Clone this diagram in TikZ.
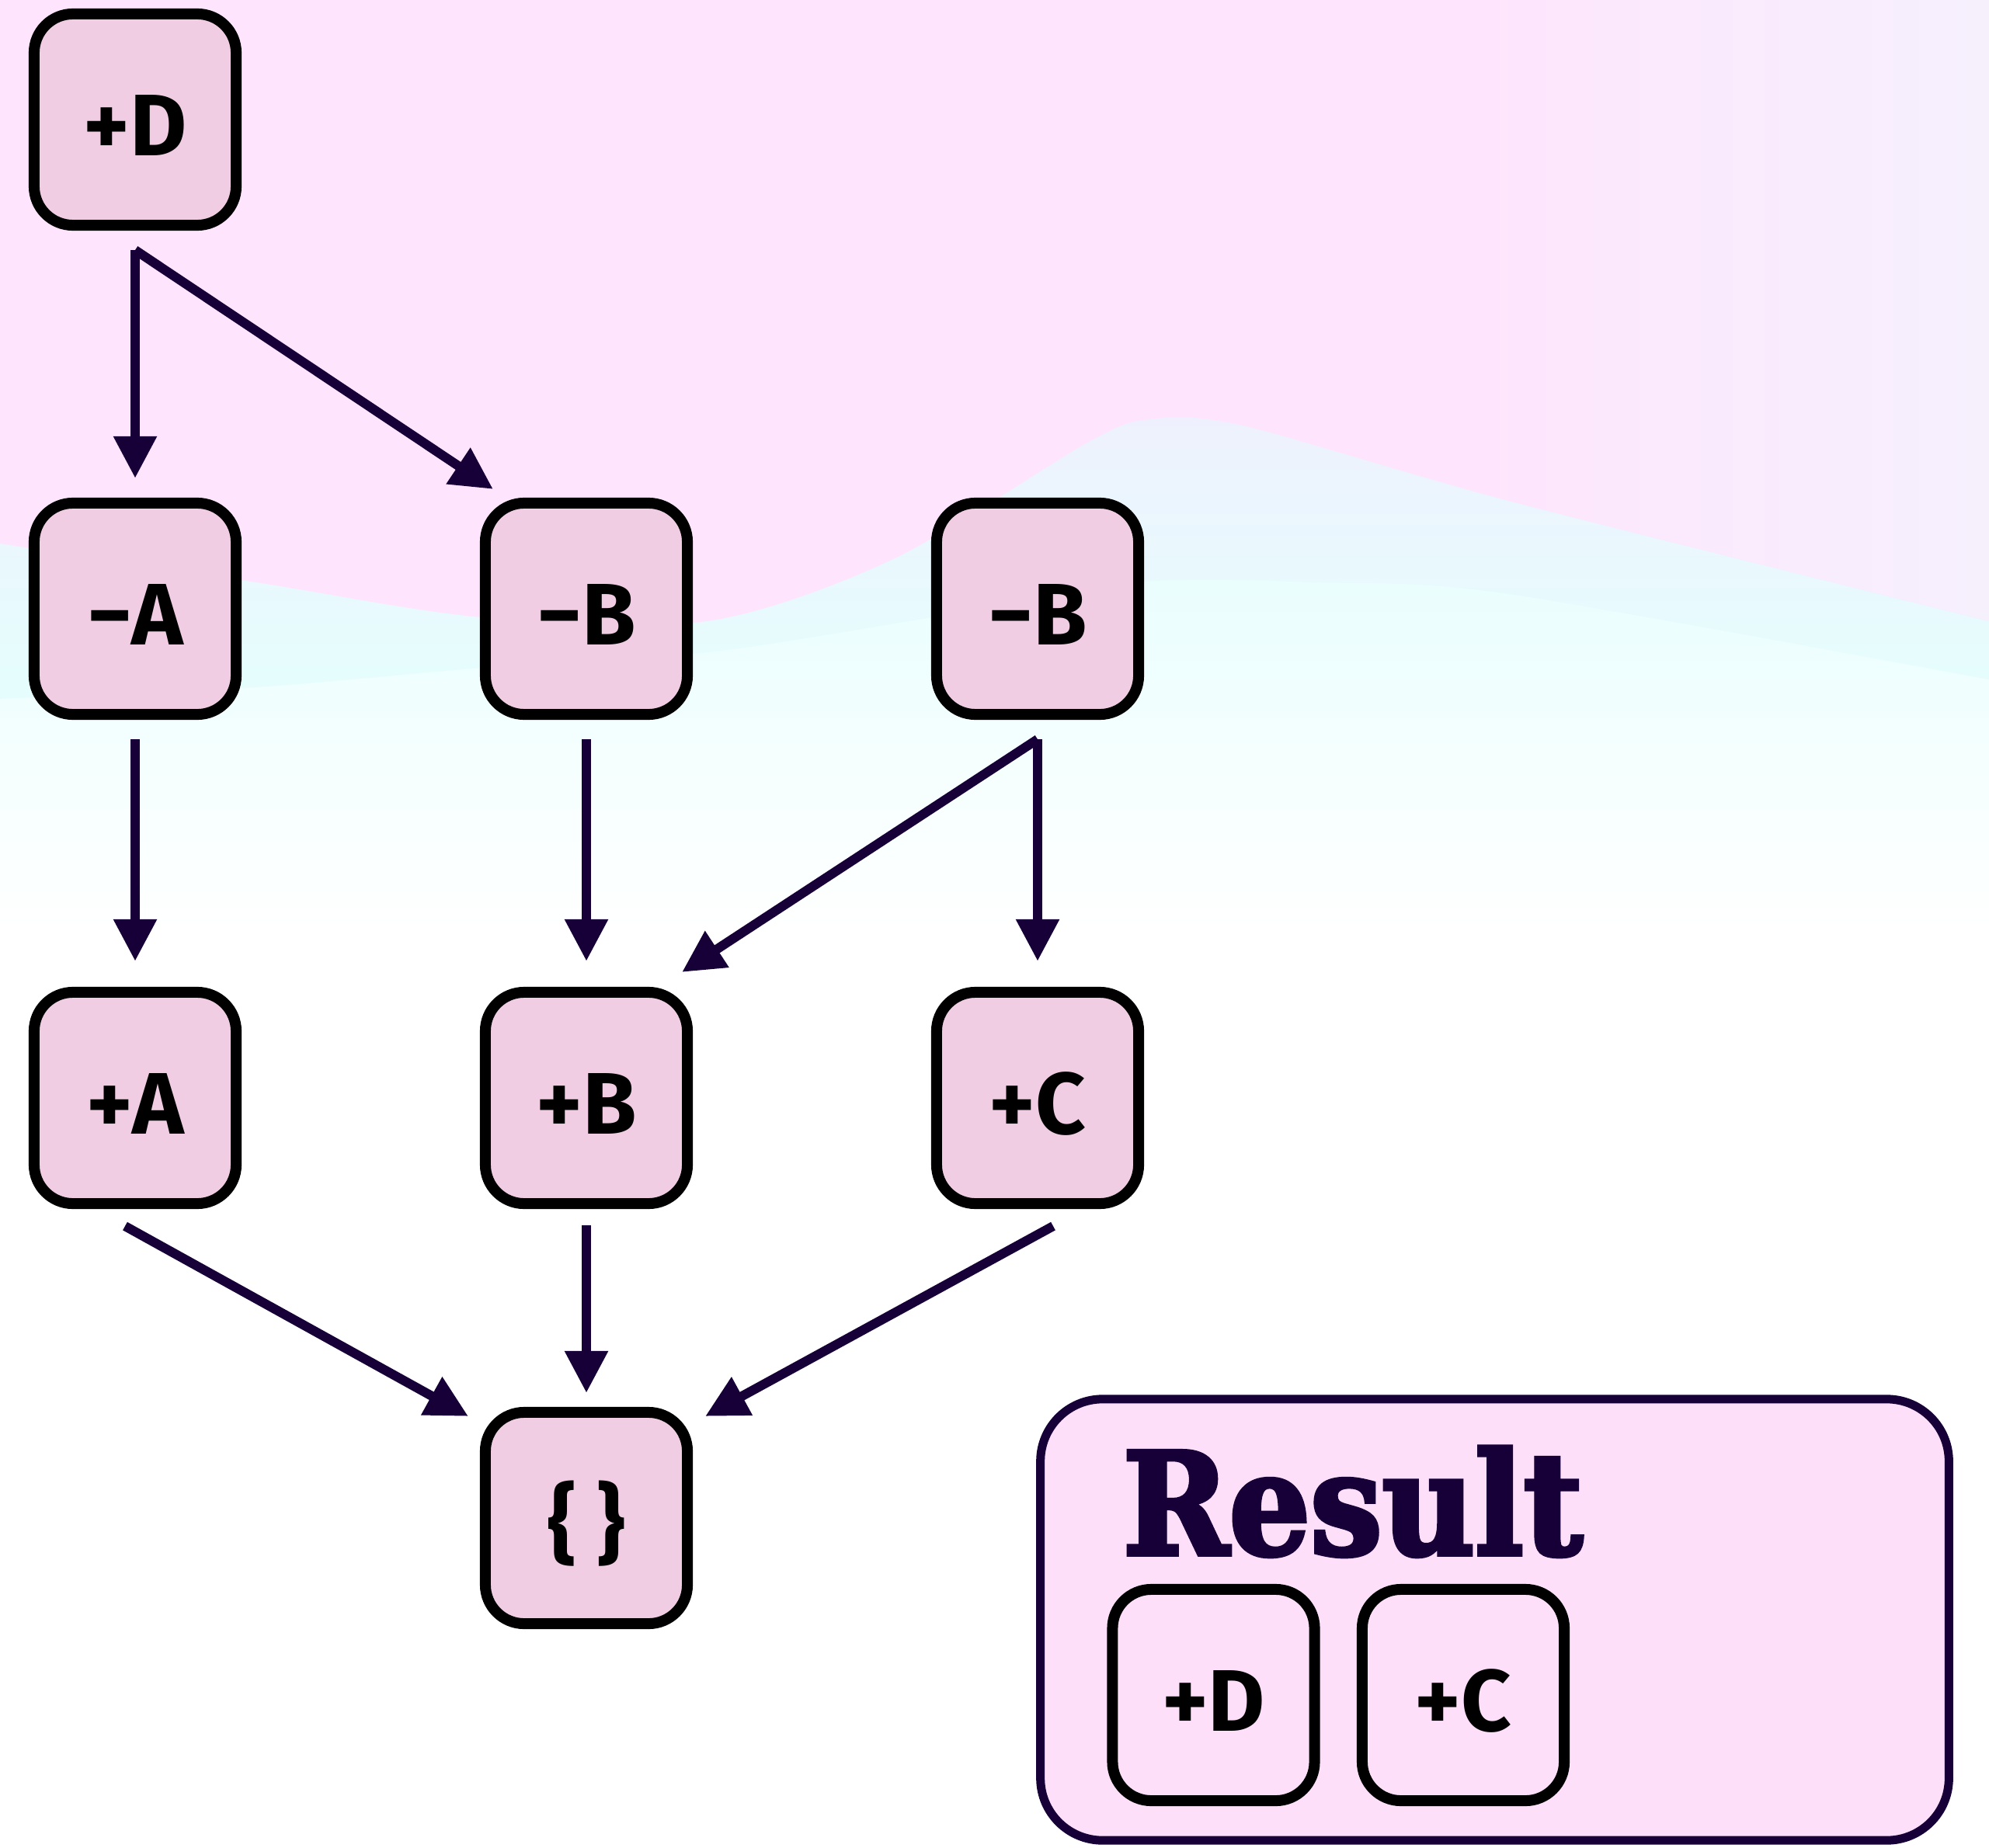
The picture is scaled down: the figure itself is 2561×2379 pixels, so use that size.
\documentclass[tikz,border=0pt]{standalone}
\usepackage{fontspec}
\usetikzlibrary{arrows.meta}
\newfontfamily\tokfont{Fira Sans}
\newfontfamily\titlefont{DejaVu Serif Condensed}[FakeBold=3]
\definecolor{bgpink}{HTML}{FEE5FD}
\definecolor{bgpinkr}{HTML}{F6F0FD}
\definecolor{bglav}{HTML}{F0EEFD}
\definecolor{bgcyan}{HTML}{E5FEFD}
\definecolor{tokfill}{HTML}{F0CDE3}
\definecolor{resfill}{HTML}{FDDFF9}
\definecolor{ink}{HTML}{170038}

\begin{document}
\begin{tikzpicture}[x=0.01cm, y=-0.01cm,
		tok/.style={draw=black, line width=0.14cm, fill=tokfill, rounded corners=0.5cm, minimum width=2.6cm, minimum height=2.72cm, inner sep=0pt, outer sep=0pt, text height=0.92cm, text depth=0pt, font=\tokfont\bfseries\fontsize{32}{32}\selectfont},
		edge/.style={draw=ink, line width=0.12cm, -{Triangle[width=0.53cm,length=0.54cm]}}
		]
		\useasboundingbox (0,0) rectangle (2561,2379);
		% background
		\fill[white] (0,0) rectangle (2561,2379);
		\shade[top color=bgcyan, bottom color=white] (0,650) rectangle (2561,1200);
		\shade[top color=bglav, bottom color=bgcyan] (0,450) -- plot[smooth] coordinates {(0,900) (330,885) (620,860) (912,840) (1200,795) (1461,750) (1700,750) (1943,765) (2561,875)} -- (2561,450) -- cycle;
		\fill[bgpink] (0,0) -- plot[smooth] coordinates {(0,700) (330,750) (620,795) (910,800) (1150,720) (1400,570) (1480,540) (1600,548) (1943,645) (2561,800)} -- (2561,0) -- cycle;
		\begin{scope}
			\clip (0,0) -- plot[smooth] coordinates {(0,700) (330,750) (620,795) (910,800) (1150,720) (1400,570) (1480,540) (1600,548) (1943,645) (2561,800)} -- (2561,0) -- cycle;
			\shade[left color=bgpink, right color=bgpinkr] (1900,0) rectangle (2561,900);
		\end{scope}
		
		\node[tok] (pD) at (174,154) {+D};
		\node[tok] (mA) at (174,784) {−A};
		\node[tok] (mB) at (755,784) {−B};
		\node[tok] (mBB) at (1336,784) {−B};
		\node[tok] (pA) at (174,1414) {+A};
		\node[tok] (pB) at (755,1414) {+B};
		\node[tok] (pC) at (1336,1414) {+C};
		\node[tok] (none) at (755,1955) {\{ \}};
		
		\draw[edge, shorten <=0.32cm, shorten >=0.32cm] (pD.south) -- (mA.north);
		\draw[edge] ([yshift=-0.32cm]pD.south) -- ([shift={(10,-18)}]mB.north west);
		\draw[edge, shorten <=0.32cm, shorten >=0.40cm] (mA.south) -- (pA.north);
		\draw[edge, shorten <=0.32cm, shorten >=0.40cm] (mB.south) -- (pB.north);
		\draw[edge] ([yshift=-0.32cm]mBB.south) -- ([shift={(-7,-26)}]pB.north east);
		\draw[edge, shorten <=0.32cm, shorten >=0.40cm] (mBB.south) -- (pC.north);
		\draw[edge] ([shift={(-13,29)}]pA.south) -- ([shift={(-22,5)}]none.north west);
		\draw[edge, shorten <=0.28cm, shorten >=0.25cm] (pB.south) -- (none.north);
		\draw[edge] ([shift={(20,29)}]pC.south) -- ([shift={(23,5)}]none.north east);
		
		% result
		\node[draw=ink, line width=0.11cm, fill=resfill, rounded corners=0.8cm, minimum width=11.69cm, minimum height=5.68cm, inner sep=0pt, outer sep=0pt] (res) at (1924.5,2086) {};
		\node[anchor=base west, inner sep=0pt, text=ink, font=\titlefont\bfseries\fontsize{52}{52}\selectfont] (restitle) at (1445,2002) {Result};
		\node[tok, fill=resfill] (rD) at (1562.5,2183) {+D};
		\node[tok, fill=resfill] (rC) at (1884,2183) {+C};
\end{tikzpicture}
\end{document}
